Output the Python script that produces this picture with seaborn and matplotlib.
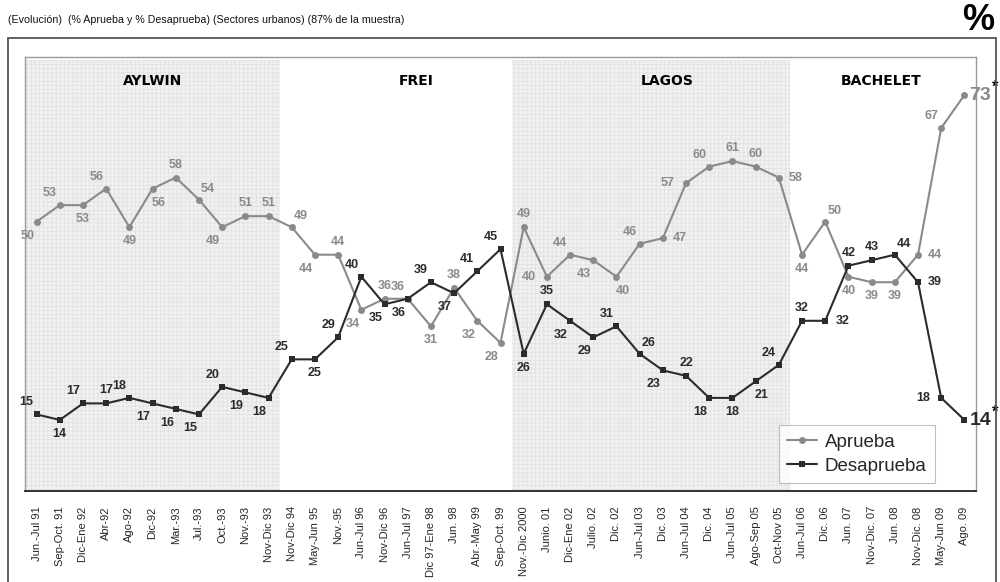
import matplotlib.pyplot as plt
import pandas as pd
import seaborn as sns
from matplotlib.patches import Rectangle

# Etiquetas del eje x (fechas de medicion)
periodos = ['Jun.-Jul 91', 'Sep-Oct. 91', 'Dic-Ene 92', 'Abr-92', 'Ago-92', 'Dic-92',
            'Mar.-93', 'Jul.-93', 'Oct.-93', 'Nov.-93', 'Nov-Dic 93', 'Nov-Dic 94',
            'May-Jun 95', 'Nov.-95', 'Jun-Jul 96', 'Nov-Dic 96', 'Jun-Jul 97',
            'Dic 97-Ene 98', 'Jun. 98', 'Abr.-May 99', 'Sep-Oct. 99', 'Nov.-Dic 2000',
            'Junio. 01', 'Dic-Ene 02', 'Julio. 02', 'Dic. 02', 'Jun-Jul 03', 'Dic. 03',
            'Jun-Jul 04', 'Dic. 04', 'Jun-Jul 05', 'Ago-Sep 05', 'Oct-Nov 05',
            'Jun-Jul 06', 'Dic. 06', 'Jun. 07', 'Nov-Dic. 07', 'Jun. 08', 'Nov-Dic. 08',
            'May-Jun 09', 'Ago. 09']

aprueba = [50, 53, 53, 56, 49, 56, 58, 54, 49, 51, 51, 49, 44, 44, 34, 36, 36, 31, 38, 32,
           28, 49, 40, 44, 43, 40, 46, 47, 57, 60, 61, 60, 58, 44, 50, 40, 39, 39, 44, 67, 73]
desaprueba = [15, 14, 17, 17, 18, 17, 16, 15, 20, 19, 18, 25, 25, 29, 40, 35, 36, 39, 37, 41,
              45, 26, 35, 32, 29, 31, 26, 23, 22, 18, 18, 21, 24, 32, 32, 42, 43, 44, 39, 18, 14]

# Gobiernos: nombre, primera y ultima medicion
gobiernos = ['AYLWIN', 'FREI', 'LAGOS', 'BACHELET']
gob_inicio = [0, 11, 21, 33]
gob_fin = [10, 20, 32, 40]
gob_sombra = [True, False, True, False]
# desplazamiento del nombre respecto al centro del periodo
gob_ajuste = [0.0, 0.85, 0.7, -0.1]

# donde va cada etiqueta respecto a su punto
pos_aprueba = ['bl', 'al', 'b', 'al', 'b', 'br', 'a', 'ar', 'bl', 'a', 'a', 'ar', 'bl', 'a',
               'bl', 'a', 'al', 'b', 'a', 'bl', 'bl', 'a', 'l', 'al', 'bl', 'br', 'al', 'r',
               'l', 'al', 'a', 'a', 'r', 'b', 'ar', 'b', 'b', 'b', 'r', 'al', 'big']
pos_desaprueba = ['al', 'b', 'al', 'a', 'al', 'bl', 'bl', 'bl', 'al', 'bl', 'bl', 'al', 'b',
                  'al', 'al', 'bl', 'bl', 'al', 'bl', 'al', 'al', 'b', 'a', 'bl', 'bl', 'al',
                  'ar', 'bl', 'a', 'bl', 'b', 'br', 'al', 'a', 'r', 'a', 'a', 'ar', 'r', 'l', 'big']
offsets = {'a': (0, 13), 'b': (0, -14), 'al': (-10, 12), 'ar': (9, 11),
           'bl': (-9, -14), 'br': (6, -14), 'l': (-18, 0), 'r': (17, 0), 'big': (16, -1)}

col_ap = '#8a8a8a'
col_des = '#2b2b2b'

df = pd.DataFrame({
    'x': list(range(len(periodos))) * 2,
    'valor': aprueba + desaprueba,
    'serie': ['Aprueba'] * len(aprueba) + ['Desaprueba'] * len(desaprueba),
})

sns.set_style('white')
plt.rcParams['font.family'] = ['Liberation Sans', 'DejaVu Sans']
plt.rcParams['hatch.linewidth'] = 0.6

fig = plt.figure(figsize=(10, 5.82), dpi=100)
ax = fig.add_axes([0.025, 0.1564, 0.951, 0.7457])

for nom, i0, i1, somb, aj in zip(gobiernos, gob_inicio, gob_fin, gob_sombra, gob_ajuste):
    if somb:
        ax.axvspan(i0 - 0.5, i1 + 0.5, ymin=0, ymax=0.993, facecolor='#f1f1f1',
                   edgecolor='#e2e2e2', hatch='++++', linewidth=0, zorder=0)
    ax.text((i0 + i1) / 2 + aj, 0.945, nom, transform=ax.get_xaxis_transform(),
            ha='center', va='center', fontsize=10, fontweight='bold',
            family='DejaVu Sans', color='black')

sns.lineplot(data=df, x='x', y='valor', hue='serie', style='serie',
             palette={'Aprueba': col_ap, 'Desaprueba': col_des},
             markers={'Aprueba': 'o', 'Desaprueba': 's'}, dashes=False,
             markersize=5, markeredgewidth=0, linewidth=1.5, ax=ax, zorder=3)

for vals, pos, col in [(aprueba, pos_aprueba, col_ap), (desaprueba, pos_desaprueba, col_des)]:
    for i, (v, p) in enumerate(zip(vals, pos)):
        dx, dy = offsets[p]
        big = p == 'big'
        ax.annotate(str(v), (i, v), xytext=(dx, dy), textcoords='offset pixels',
                    ha='center', va='center', color=col, fontweight='bold',
                    fontsize=14 if big else 9, zorder=4)
        if big:
            ax.annotate('*', (i, v), xytext=(31, 8), textcoords='offset pixels',
                        ha='center', va='center', color='black', fontweight='bold',
                        fontsize=12, annotation_clip=False)

ax.set_xlim(-0.5, len(periodos) - 0.5)
ax.set_ylim(1.1, 79.9)
ax.set_yticks([])
ax.set_xlabel('')
ax.set_ylabel('')
ax.set_xticks(range(len(periodos)))
ax.set_xticklabels(periodos, rotation=90, fontsize=8)
ax.set_xticks([i - 0.5 for i in range(len(periodos) + 1)], minor=True)
ax.tick_params(axis='x', which='major', length=0, pad=11)
ax.tick_params(axis='x', which='minor', length=5, width=1.2, color='#222222', direction='out')

for s in ['left', 'top', 'right']:
    ax.spines[s].set_color('#9a9a9a')
    ax.spines[s].set_linewidth(1.0)
ax.spines['bottom'].set_color('#222222')
ax.spines['bottom'].set_linewidth(1.3)

handles, labels = ax.get_legend_handles_labels()
leg = ax.legend(handles, labels, loc='lower right', bbox_to_anchor=(0.957, 0.018),
                borderaxespad=0, fontsize=13.5, frameon=True, fancybox=False,
                edgecolor='#b0b0b0', handlelength=1.6, borderpad=0.45,
                labelspacing=0.35, handletextpad=0.4)
leg.get_frame().set_linewidth(0.8)

# marco exterior y titulos
fig.add_artist(Rectangle((0.008, -0.02), 0.988, 0.9547, transform=fig.transFigure,
                         fill=False, edgecolor='#555555', linewidth=1.3))
fig.text(0.008, 0.9656, '(Evolución)  (% Aprueba y % Desaprueba) (Sectores urbanos) (87% de la muestra)',
         ha='left', va='center', fontsize=7.7, color='#111111')
fig.text(0.994, 0.995, '%', ha='right', va='top', fontsize=26, fontweight='bold', color='black')

fig.savefig('out.png', dpi=100)
plt.close(fig)
